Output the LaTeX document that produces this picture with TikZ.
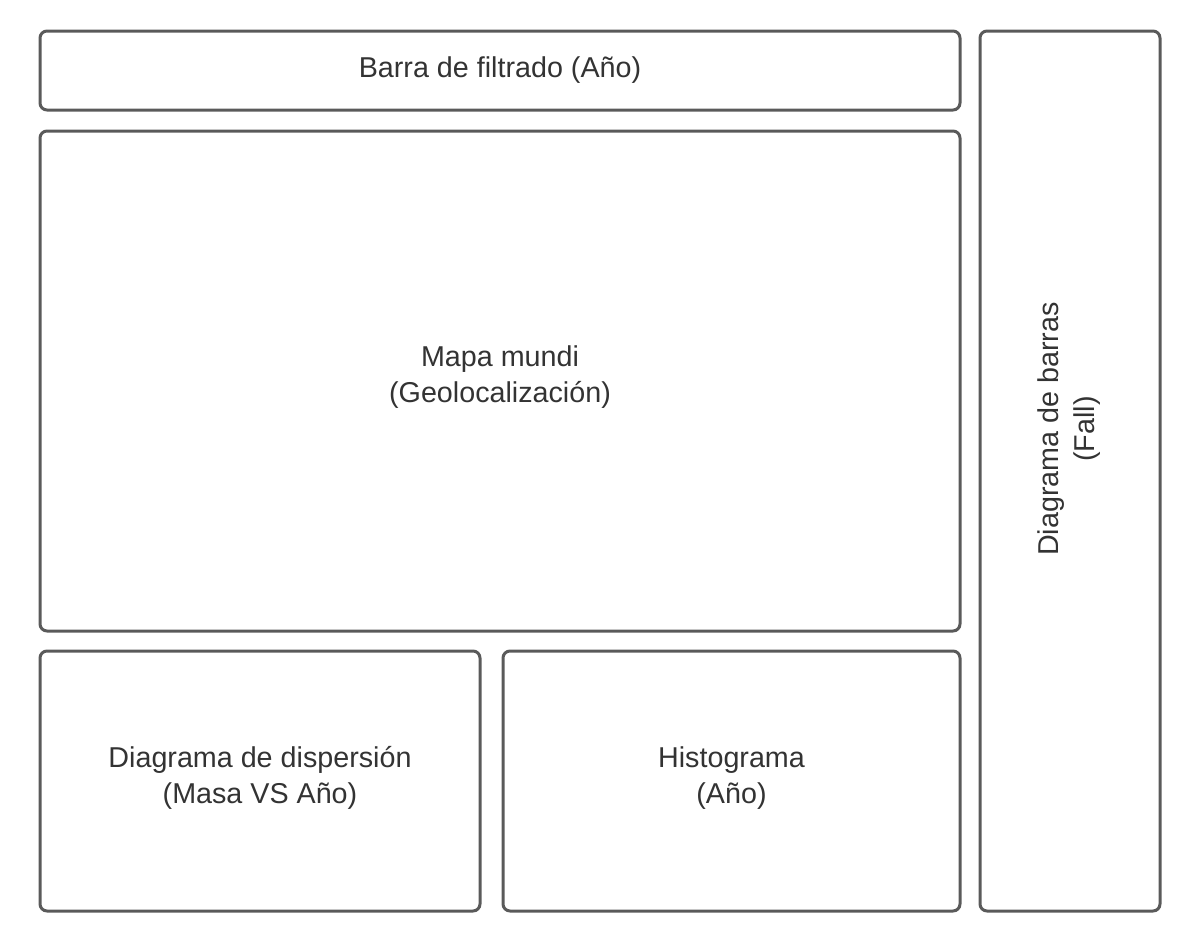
\documentclass[tikz,border=0pt]{standalone}
\usepackage{fontspec}
\setmainfont{Liberation Sans}
\usetikzlibrary{positioning}

\definecolor{boxgray}{HTML}{5A5A5A}
\definecolor{textgray}{HTML}{333333}

\tikzset{
    panel/.style = {rectangle, draw=boxgray, line width=3pt, rounded corners=7pt,
        align=center, text=textgray, font=\fontsize{28.7}{36}\selectfont, inner sep=0pt},
}

\begin{document}
\begin{tikzpicture}[x=1pt, y=-1pt]
    % Page size
    \useasboundingbox (0,0) rectangle (1196,951);

    % Filter bar on top
    \node[panel, minimum width=920pt, minimum height=79pt] (filtro) at (500,70.5) {Barra de filtrado (Año)};
    % World map
    \node[panel, minimum width=920pt, minimum height=500pt] (mapa) at (500,381) {};
    \node[panel, draw=none] (mapatxt) at (500,377) {Mapa mundi\\(Geolocalización)};
    % Bottom panels
    \node[panel, minimum width=440pt, minimum height=260pt] (dispersion) at (260,781) {};
    \node[panel, draw=none] (disptxt) at (260,778) {Diagrama de dispersión\\(Masa VS Año)};
    \node[panel, minimum width=457pt, minimum height=260pt] (histo) at (731.5,781) {};
    \node[panel, draw=none] (histotxt) at (731.5,778) {Histograma\\(Año)};
    % Bar chart on the right side
    \node[panel, minimum width=180pt, minimum height=880pt] (barras) at (1070,471) {};
    \node[panel, draw=none, rotate=90] (barrastxt) at (1069,429) {Diagrama de barras\\(Fall)};

\end{tikzpicture}
\end{document}
